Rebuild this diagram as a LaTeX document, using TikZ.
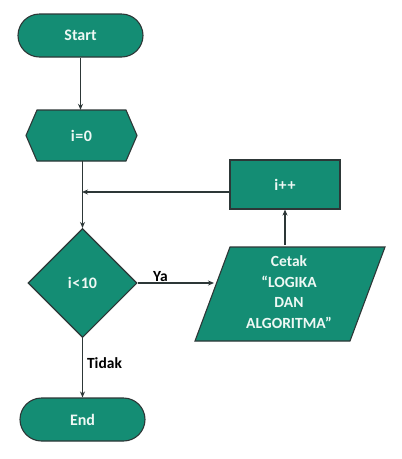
\documentclass[tikz,border=0pt]{standalone}
\usepackage{fontspec}
\setmainfont{Carlito}
\usetikzlibrary{shapes.geometric,shapes.misc,arrows.meta}
\definecolor{tealfill}{RGB}{20,141,116}
\definecolor{edgegray}{RGB}{45,55,55}
\definecolor{txtwhite}{RGB}{238,248,244}
\begin{document}
\begin{tikzpicture}[x=1pt,y=-1pt,
  shapebox/.style={fill=tealfill,draw=edgegray,line width=1.1pt,text=txtwhite,font=\bfseries\fontsize{16}{18}\selectfont,inner sep=0pt},
  term/.style={shapebox,rounded rectangle,minimum width=125pt,minimum height=43pt},
  proc/.style={shapebox,rectangle,minimum width=110pt,minimum height=49pt},
  decision/.style={shapebox,diamond,aspect=1,minimum width=109pt,minimum height=109pt},
  plain/.style={text=txtwhite,inner sep=0pt,align=center},
  arr/.style={draw=edgegray,line width=1.1pt,-{Stealth[length=6pt,width=5pt]}},
  lbl/.style={font=\bfseries\fontsize{15.5}{17}\selectfont,text=black,inner sep=1pt}
]
\useasboundingbox (0,0) rectangle (402,459);
\fill[white] (0,0) rectangle (402,459);

% terminals
\node[term] (start) at (80.5,35.5) {Start};
\node[term] (end) at (82.5,419.5) {End};

% initialisation hexagon
\filldraw[fill=tealfill,draw=edgegray,line width=1.1pt]
  (26,135.5) -- (37,110) -- (126,110) -- (137,135.5) -- (126,161) -- (37,161) -- cycle;
\node[plain,minimum width=111pt,minimum height=51pt,font=\bfseries\fontsize{16}{18}\selectfont] (init) at (81.5,135.5) {i{\kern0.5pt}={\kern0.5pt}0};

% decision
\node[decision] (dec) at (82.5,283) {i{\kern0.5pt}<{\kern0.5pt}10};

% increment
\node[proc] (inc) at (285,184.5) {i{\kern0.5pt}+{\kern1pt}+};

% output parallelogram
\filldraw[fill=tealfill,draw=edgegray,line width=1.1pt]
  (230,247) -- (385,247) -- (350,341) -- (195,341) -- cycle;
\node[plain,minimum width=120pt,minimum height=94pt,font=\bfseries\fontsize{15.5}{20.5}\selectfont] (out) at (289,292)
  {Cetak\\``LOGIKA\\DAN\\ALGORITMA''};

% connectors
\coordinate (loopin) at (82,192);
\coordinate (outleft) at (214,283);
\draw[arr] (start.south) -- (start.south |- init.north);
\draw[arr] (init.south -| dec.north) -- (dec.north);
\draw[arr] (inc.west |- loopin) -- (loopin);
\draw[arr] (dec.east) -- (outleft) node[lbl,pos=0.3,above] {Ya};
\draw[arr] (inc.south |- out.north) -- (inc.south);
\draw[arr] (dec.south) -- (end.north) node[lbl,pos=0.42,right=3pt] {Tidak};
\end{tikzpicture}
\end{document}
